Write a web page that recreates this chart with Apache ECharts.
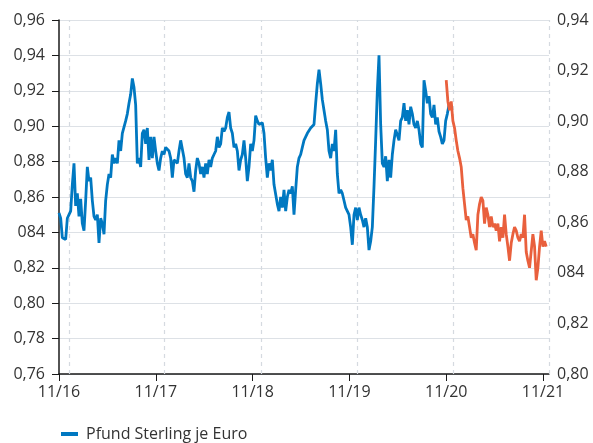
<!DOCTYPE html>
<html>
<head>
<meta charset="utf-8">
<script src="https://cdn.jsdelivr.net/npm/echarts@6/dist/echarts.min.js"></script>
<style>
    html, body { margin: 0; padding: 0; background: #fff; }
    #chart { width: 593px; height: 443px; }
</style>
</head>
<body>
<div id="chart"></div>
<script>
// x in months since 11/2016, one reading roughly every 6 days
const stepMonths = 0.2066
const blueStart = 0
const orangeStart = 48

const xTickLabels = ['11/16', '11/17', '11/18', '11/19', '11/20', '11/21']
const leftTickLabels = ['0,76', '0,78', '0,80', '0,82', '084', '0,86', '0,88', '0,90', '0,92', '0,94', '0,96']
const rightTickLabels = ['0,80', '0,82', '084', '0,86', '0,88', '0,90', '0,92', '0,94']
// dashed reference lines (months since 11/2016)
const dashMonths = [1.24, 13.1, 25.04, 36.98, 48.88, 60.74]

// Pfund Sterling je Euro, 11/16 - 11/20
const blueValues = [
    0.851, 0.848, 0.837, 0.836, 0.836, 0.848, 0.850, 0.852, 0.867, 0.879,
    0.855, 0.862, 0.849, 0.859, 0.845, 0.841, 0.858, 0.877, 0.869, 0.871,
    0.858, 0.849, 0.847, 0.850, 0.834, 0.848, 0.845, 0.839, 0.858, 0.867,
    0.873, 0.871, 0.884, 0.879, 0.882, 0.879, 0.892, 0.886, 0.896, 0.896,
    0.903, 0.907, 0.913, 0.918, 0.927, 0.922, 0.912, 0.879, 0.882, 0.877,
    0.896, 0.898, 0.890, 0.899, 0.881, 0.894, 0.882, 0.894, 0.886, 0.879,
    0.875, 0.882, 0.886, 0.884, 0.888, 0.888, 0.886, 0.882, 0.871, 0.881,
    0.882, 0.879, 0.886, 0.892, 0.893, 0.882,
    0.873, 0.871, 0.879, 0.871, 0.869, 0.863, 0.875, 0.882, 0.879, 0.873,
    0.877, 0.871, 0.879, 0.873, 0.881, 0.877, 0.882, 0.884, 0.886, 0.894,
    0.888, 0.890, 0.899, 0.897, 0.899, 0.905, 0.908, 0.899, 0.896, 0.888,
    0.890, 0.886, 0.875, 0.881, 0.884, 0.892, 0.882, 0.869, 0.877, 0.890,
    0.886, 0.892, 0.906, 0.903, 0.901, 0.902, 0.902, 0.896, 0.882, 0.871,
    0.879, 0.875, 0.881, 0.867, 0.866, 0.856, 0.852, 0.860, 0.854, 0.864,
    0.852, 0.860, 0.864, 0.862, 0.866, 0.850, 0.864, 0.877, 0.882, 0.884,
    0.888, 0.892, 0.894, 0.896, 0.897, 0.899,
    0.898, 0.901, 0.913, 0.924, 0.932, 0.924, 0.915, 0.909, 0.903, 0.898,
    0.886, 0.882, 0.890, 0.886, 0.898, 0.873, 0.862, 0.864, 0.862, 0.858,
    0.854, 0.854, 0.850, 0.843, 0.833, 0.850, 0.854, 0.847, 0.854, 0.850,
    0.847, 0.843, 0.848, 0.843, 0.830, 0.835, 0.843, 0.866, 0.892, 0.920,
    0.940, 0.901, 0.879, 0.877, 0.883, 0.869, 0.881, 0.871, 0.884, 0.892,
    0.898, 0.898, 0.892, 0.903, 0.905, 0.913, 0.903, 0.909, 0.901, 0.911,
    0.907, 0.901, 0.899, 0.903, 0.898, 0.890, 0.888, 0.926, 0.920, 0.913,
    0.917, 0.907,
    0.905, 0.912, 0.901, 0.905, 0.897, 0.894, 0.890, 0.892, 0.903, 0.907,
    0.912
]

// 11/20 - 11/21
const orangeValues = [
    0.926, 0.914, 0.909, 0.914, 0.903, 0.899, 0.892, 0.886, 0.882, 0.877,
    0.865, 0.856, 0.847, 0.849, 0.843, 0.837, 0.839, 0.834, 0.830, 0.850,
    0.856, 0.860, 0.858, 0.845, 0.854, 0.850, 0.843, 0.849, 0.843, 0.845,
    0.841, 0.845, 0.835, 0.843, 0.837, 0.850, 0.839, 0.832, 0.824, 0.834,
    0.839, 0.843, 0.841, 0.837, 0.835, 0.839, 0.837, 0.850, 0.829, 0.824,
    0.820, 0.819, 0.839, 0.832, 0.813, 0.820, 0.832, 0.841, 0.832, 0.835,
    0.832
]

const font = '"Open Sans", "Noto Sans", sans-serif'
const textColor = '#333'
const axisColor = '#1a1a1a'
const xMax = 60.74

const chart = echarts.init(document.getElementById('chart'))

const option = {
    animation: false,
    textStyle: { fontFamily: font },
    grid: { left: 59, right: 44, top: 20, bottom: 69 },
    legend: {
        data: ['Pfund Sterling je Euro'],
        left: 56,
        top: 421,
        icon: 'rect',
        itemWidth: 17,
        itemHeight: 4,
        textStyle: { fontSize: 16, color: textColor, fontFamily: font, padding: [0, 0, 0, 3] }
    },
    xAxis: {
        type: 'value',
        min: 0,
        max: xMax,
        axisLine: { lineStyle: { color: axisColor, width: 1.5 } },
        axisTick: { customValues: [0, 12, 24, 36, 48, 60], length: 7, lineStyle: { color: axisColor } },
        axisLabel: {
            customValues: [0, 12, 24, 36, 48, 60],
            formatter: v => xTickLabels[Math.round(v / 12)],
            margin: 10,
            fontSize: 16,
            color: textColor
        },
        splitLine: { show: false }
    },
    yAxis: [
        {
            type: 'value',
            position: 'left',
            min: 0.76,
            max: 0.96,
            interval: 0.02,
            axisLine: { show: true, lineStyle: { color: axisColor, width: 1.5 } },
            axisTick: { show: true, length: 7, lineStyle: { color: axisColor } },
            axisLabel: {
                formatter: v => leftTickLabels[Math.round((v - 0.76) / 0.02)],
                margin: 14,
                fontSize: 16,
                color: textColor
            },
            splitLine: { lineStyle: { color: '#dde1e6', width: 1 } }
        },
        {
            type: 'value',
            position: 'right',
            min: 0.80,
            max: 0.94,
            interval: 0.02,
            axisLine: { show: false },
            axisTick: { show: false },
            axisLabel: {
                formatter: v => rightTickLabels[Math.round((v - 0.80) / 0.02)],
                margin: 8,
                fontSize: 16,
                color: textColor
            },
            splitLine: { show: false }
        }
    ],
    series: [
        {
            name: 'Pfund Sterling je Euro',
            type: 'line',
            showSymbol: false,
            color: '#0078c1',
            lineStyle: { width: 2.8, color: '#0078c1' },
            data: blueValues.map((v, i) => [blueStart + i * stepMonths, v]),
            markLine: {
                silent: true,
                z: 1,
                symbol: ['none', 'none'],
                label: { show: false },
                lineStyle: { type: [4, 4], color: '#d5dae0', width: 1.2 },
                data: dashMonths.map(m => ({ xAxis: m }))
            }
        },
        {
            name: 'Pfund Sterling je Euro ab 11/20',
            type: 'line',
            showSymbol: false,
            color: '#e9603d',
            lineStyle: { width: 2.8, color: '#e9603d' },
            data: orangeValues.map((v, i) => [orangeStart + i * stepMonths, v])
        }
    ]
}

chart.setOption(option)
</script>
</body>
</html>
